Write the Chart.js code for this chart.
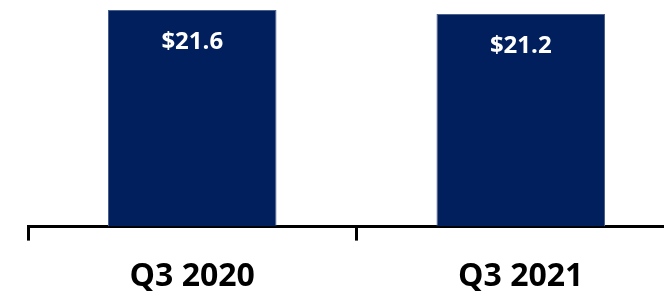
<!DOCTYPE html>
<html>
<head>
<meta charset="utf-8">
<script src="https://cdn.jsdelivr.net/npm/chart.js@4/dist/chart.umd.min.js"></script>
<style>
    html, body { margin: 0; padding: 0; overflow: hidden; background: #fff; height: 296px; }
    #wrap { position: relative; width: 700px; height: 313px; }
</style>
</head>
<body>
<div id="wrap"><canvas id="barChart"></canvas></div>
<script>
const quarters = ['Q3 2020', 'Q3 2021'];
const revenue = [21.6, 21.2];

// draws the white value labels inside the top of each bar
const valueLabels = {
    id: 'valueLabels',
    afterDatasetsDraw(chart){
        const ctx = chart.ctx;
        ctx.save();
        ctx.fillStyle = '#ffffff';
        ctx.font = 'bold 24px "Open Sans"';
        ctx.textAlign = 'center';
        ctx.textBaseline = 'middle';
        chart.getDatasetMeta(0).data.forEach(function(bar, i){
            ctx.fillText('$' + revenue[i].toFixed(1), bar.x, bar.y + 32);
        });
        ctx.restore();
    }
};

document.addEventListener("DOMContentLoaded", function(){
    const data = {
        labels: quarters,
        datasets: [{
            data: revenue,
            backgroundColor: '#001f5c',
            borderColor: '#4a5f8c',
            borderWidth: 1,
            barPercentage: 0.513,
            categoryPercentage: 1
        }]
    };

    const config = {
        type: 'bar',
        data: data,
        options: {
            responsive: true,
            maintainAspectRatio: false,
            animation: false,
            layout: {
                padding: { left: 28, right: 15, top: 0, bottom: 0 }
            },
            plugins: {
                legend: { display: false },
                tooltip: { enabled: false }
            },
            scales: {
                x: {
                    border: { color: '#000000', width: 3 },
                    grid: {
                        offset: true,
                        drawOnChartArea: false,
                        drawTicks: true,
                        tickLength: 14,
                        tickWidth: 3,
                        tickColor: '#000000'
                    },
                    ticks: {
                        color: '#000000',
                        padding: 17,
                        font: { family: '"Open Sans"', size: 32, weight: 'bold' }
                    }
                },
                y: {
                    display: false,
                    min: 0,
                    max: 22.6
                }
            }
        },
        plugins: [valueLabels]
    };

    new Chart(document.getElementById('barChart'), config);
});
</script>
</body>
</html>
